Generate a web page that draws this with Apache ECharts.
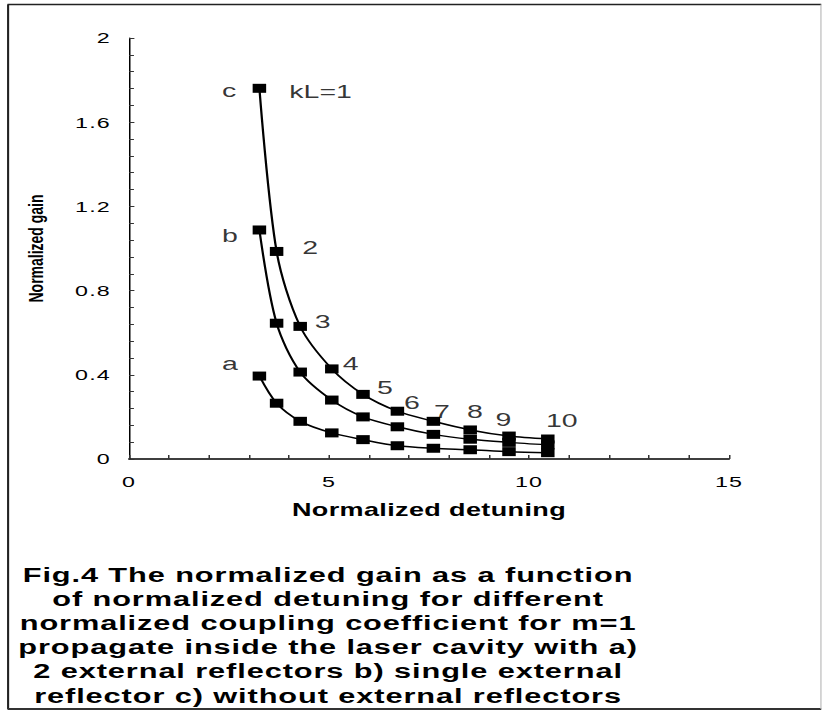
<!DOCTYPE html>
<html>
<head>
<meta charset="utf-8">
<script src="https://cdn.jsdelivr.net/npm/echarts@6/dist/echarts.min.js"></script>
<style>
  html, body { margin: 0; padding: 0; background: #fff; overflow: hidden; }
  #wrap { width: 548px; height: 711px; transform: scaleX(1.5); transform-origin: 0 0; }
</style>
</head>
<body>
<div id="wrap"></div>
<script>
// Data
const detuning = [3.26, 3.69, 4.28, 5.07, 5.85, 6.71, 7.61, 8.53, 9.5, 10.47];
const gainA = [0.394, 0.265, 0.179, 0.124, 0.092, 0.063, 0.051, 0.044, 0.035, 0.030];
const gainB = [1.088, 0.645, 0.413, 0.280, 0.200, 0.153, 0.117, 0.094, 0.079, 0.067];
const gainC = [1.761, 0.986, 0.630, 0.428, 0.307, 0.227, 0.179, 0.138, 0.109, 0.095];

const annText = ['c', 'kL=1', 'b', 'a', '2', '3', '4', '5', '6', '7', '8', '9', '10'];
const annX = [2.5, 4.79, 2.52, 2.52, 4.53, 4.84, 5.54, 6.4, 7.07, 7.82, 8.65, 9.36, 10.82];
const annY = [1.753, 1.745, 1.062, 0.453, 1.004, 0.652, 0.455, 0.340, 0.271, 0.225, 0.225, 0.189, 0.185];

const captionLines = [
  'Fig.4 The normalized gain as a function',
  'of normalized detuning for different',
  'normalized coupling coefficient for m=1',
  'propagate inside the laser cavity with a)',
  '2 external reflectors b) single external',
  'reflector c) without external reflectors'
];

const FONT = '"Liberation Sans", Arial, sans-serif';
const chart = echarts.init(document.getElementById('wrap'), null, { renderer: 'svg' });

function pairs(ys) { return detuning.map((x, i) => [x, ys[i]]); }
function curve(name, ys) {
  return {
    name: name, type: 'line', data: pairs(ys), smooth: 0.3,
    symbol: 'rect', symbolSize: [9, 9],
    itemStyle: { color: '#000' },
    lineStyle: { color: '#000', width: 1.5 },
    z: 3, animation: false
  };
}

const caption = captionLines.map((t, i) => ({
  type: 'text',
  x: 218.7, y: 575 + i * 24.1,
  style: {
    text: t, fill: '#000', font: 'bold 20.5px ' + FONT,
    textAlign: 'center', textVerticalAlign: 'middle'
  }
}));

chart.setOption({
  animation: false,
  backgroundColor: '#fff',
  grid: { left: 86, width: 400, top: 38, height: 421, containLabel: false },
  xAxis: {
    type: 'value', min: 0, max: 15, interval: 5,
    name: 'Normalized detuning', nameLocation: 'middle', nameGap: 42,
    nameTextStyle: { fontFamily: FONT, fontWeight: 'bold', fontSize: 18, color: '#000' },
    axisLine: { lineStyle: { color: '#000', width: 1.5 } },
    axisTick: { inside: true, length: 4, lineStyle: { color: '#333', width: 1 } },
    minorTick: { show: true, splitNumber: 5, length: 4, lineStyle: { color: '#333', width: 1 } },
    axisLabel: { fontFamily: FONT, fontSize: 15.5, color: '#000', margin: 15 },
    splitLine: { show: false }
  },
  yAxis: {
    type: 'value', min: 0, max: 2, interval: 0.4,
    name: 'Normalized gain', nameLocation: 'middle', nameGap: 55,
    nameTextStyle: { fontFamily: FONT, fontWeight: 'bold', fontSize: 14, color: '#000' },
    axisLine: { show: true, lineStyle: { color: '#000', width: 1 } },
    axisTick: { show: true, inside: true, length: 3.6, lineStyle: { color: '#333', width: 1 } },
    minorTick: { show: true, splitNumber: 5, length: 3.3, lineStyle: { color: '#333', width: 1 } },
    axisLabel: { fontFamily: FONT, fontSize: 15.5, color: '#000', margin: 12 },
    splitLine: { show: false }
  },
  series: [
    curve('a', gainA),
    curve('b', gainB),
    curve('c', gainC),
    {
      type: 'scatter', name: 'labels', symbolSize: 0, z: 4,
      data: annText.map((t, i) => ({ value: [annX[i], annY[i]], name: t })),
      label: {
        show: true, position: 'inside', formatter: p => p.name,
        fontFamily: FONT, fontSize: 19, color: '#000'
      },
      emphasis: { disabled: true }, silent: true
    }
  ],
  graphic: [
    { type: 'line', shape: { x1: 5.4, y1: 4.5, x2: 5.4, y2: 709 }, style: { stroke: '#222', lineWidth: 1.4 } },
    { type: 'line', shape: { x1: 5, y1: 4.5, x2: 547.5, y2: 4.5 }, style: { stroke: '#222', lineWidth: 1.5 } },
    { type: 'line', shape: { x1: 5, y1: 709, x2: 547.5, y2: 709 }, style: { stroke: '#333', lineWidth: 2 } },
    { type: 'line', shape: { x1: 547.3, y1: 4.5, x2: 547.3, y2: 709 }, style: { stroke: '#bbb', lineWidth: 0.8 } }
  ].concat(caption)
});

// The reference's text is set with extra tracking; mimic it per text size.
function applyTracking() {
  document.querySelectorAll('#wrap svg text').forEach(el => {
    const fs = parseFloat(getComputedStyle(el).fontSize);
    let ls = 0;
    if (Math.abs(fs - 20.5) < 0.01) ls = 0.6;
    else if (Math.abs(fs - 15.5) < 0.01) ls = 0.8;
    else if (Math.abs(fs - 18) < 0.01) ls = 0.25;
    if (ls) el.style.letterSpacing = ls + 'px';
  });
}
applyTracking();
chart.on('finished', applyTracking);
setTimeout(applyTracking, 0);
</script>
</body>
</html>
